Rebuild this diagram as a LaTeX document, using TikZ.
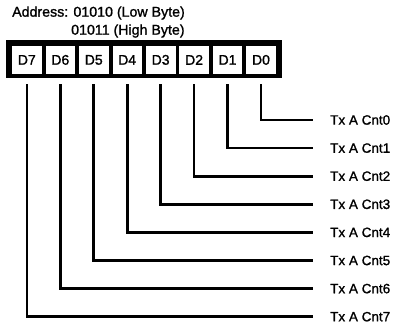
\documentclass[tikz,border=0pt]{standalone}
\usepackage{fontspec}
\setmainfont{Liberation Sans}[FakeBold=1.2]
\begin{document}
\begin{tikzpicture}[x=1pt,y=-1pt,
  cellbox/.style={fill=white,draw=black,line width=0.8pt,minimum width=30.5pt,minimum height=29pt,inner sep=0pt,anchor=north west,font=\fontsize{14}{15}\selectfont},
  lbl/.style={anchor=west,inner sep=0pt,font=\fontsize{13.5}{15}\selectfont},
  wire/.style={line width=2.6pt,line cap=rect}]
\useasboundingbox (0,0) rectangle (399,327);
\node[anchor=west,inner sep=0pt,font=\fontsize{14.2}{15}\selectfont] (addr1) at (12,13) {Address: 01010 (Low Byte)};
\node[anchor=west,inner sep=0pt,font=\fontsize{14.2}{15}\selectfont] (addr2) at (71,31) {01011 (High Byte)};
\fill[black] (6,40) rectangle (282,78);
\foreach \i/\t in {0/D7,1/D6,2/D5,3/D4,4/D3,5/D2,6/D1,7/D0}{
  \pgfmathtruncatemacro{\n}{7-\i}
  \node[cellbox] (d\n) at ({11.2+33.45*\i},45) {\t};
}
\foreach \n in {0,...,7}{
  \node[lbl] (c\n) at (330,{120+28.1*\n}) {Tx A Cnt\n};
  \draw[wire] ([yshift=-10pt]d\n.south) |- ([xshift=-18pt]c\n.west);
}
\end{tikzpicture}
\end{document}
